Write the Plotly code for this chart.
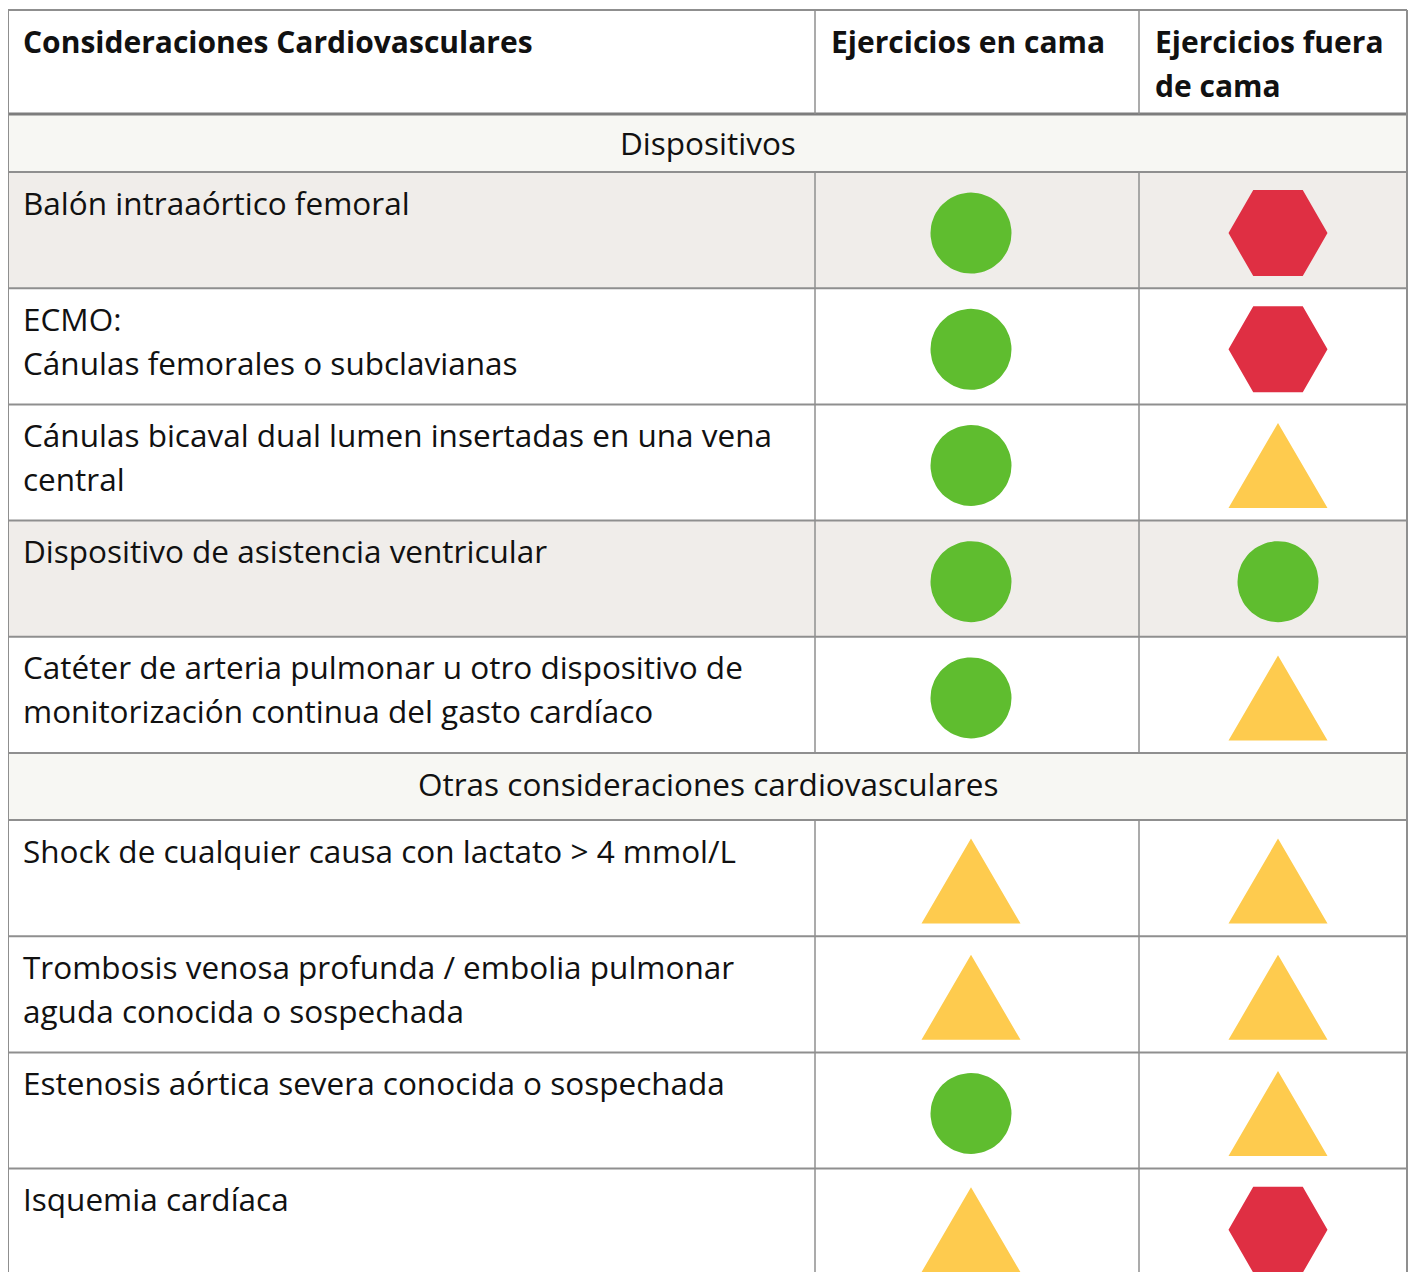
import numpy as np
import plotly.graph_objects as go

# ------------------------------------------------------------------ data
column_headers = ["Consideraciones Cardiovasculares",
                  "Ejercicios en cama",
                  "Ejercicios fuera<br>de cama"]
section_titles = ["Dispositivos", "Otras consideraciones cardiovasculares"]

dispositivos_rows = [
    "Balón intraaórtico femoral",
    "ECMO:<br>Cánulas femorales o subclavianas",
    "Cánulas bicaval dual lumen insertadas en una vena<br>central",
    "Dispositivo de asistencia ventricular",
    "Catéter de arteria pulmonar u otro dispositivo de<br>monitorización continua del gasto cardíaco",
]
dispositivos_en_cama = ["verde", "verde", "verde", "verde", "verde"]
dispositivos_fuera_cama = ["rojo", "rojo", "amarillo", "verde", "amarillo"]

otras_rows = [
    "Shock de cualquier causa con lactato > 4 mmol/L",
    "Trombosis venosa profunda / embolia pulmonar<br>aguda conocida o sospechada",
    "Estenosis aórtica severa conocida o sospechada",
    "Isquemia cardíaca",
]
otras_en_cama = ["amarillo", "amarillo", "verde", "amarillo"]
otras_fuera_cama = ["amarillo", "amarillo", "amarillo", "rojo"]

# ------------------------------------------------------------------ style / layout
FONT = "Open Sans"
TXT = "#111111"
GRID = "#8f8f8f"
SHADED_BG = "#f0edea"
SECTION_BG = "#f7f7f3"
COLORS = {"verde": "#5fbd2f", "rojo": "#df2f43", "amarillo": "#fecb4e"}

X_LEFT, X_C1, X_C2, X_RIGHT = 8, 815, 1139, 1407
SHAPE_X = [971, 1278]
Y_TOP = 10
HEADER_H = 104
SECTION_H = [58, 67]
SECTION_TXT_DY = [-1, -3]
ROW_H = 116.2
LINE_GAP = 44
FS = 31.5
FS_HEAD = 30
shaded = {(0, 0), (0, 3)}

sections = [
    (section_titles[0], dispositivos_rows, dispositivos_en_cama, dispositivos_fuera_cama),
    (section_titles[1], otras_rows, otras_en_cama, otras_fuera_cama),
]

shapes = []
annotations = []
marks = {k: ([], []) for k in COLORS}


def text(x, y, s, bold=False, xanchor="left"):
    annotations.append(dict(x=x, y=y, xref="x", yref="y", text=f"<b>{s}</b>" if bold else s,
                            showarrow=False, xanchor=xanchor, yanchor="middle",
                            font=dict(family=FONT, size=FS_HEAD if bold else FS, color=TXT)))


def hline(y, w=2, color=GRID):
    shapes.append(dict(type="line", xref="x", yref="y", x0=X_LEFT, x1=X_RIGHT, y0=y, y1=y,
                       line=dict(color=color, width=w), layer="above"))


def add_mark(kind, cx, cy):
    xs, ys = marks[kind]
    if kind == "verde":
        t = np.linspace(0, 2 * np.pi, 73)
        px, py = 40.5 * np.cos(t), 40.5 * np.sin(t)
    elif kind == "rojo":
        px = np.array([-49.5, -24.75, 24.75, 49.5, 24.75, -24.75, -49.5])
        py = np.array([0, -43, -43, 0, 43, 43, 0])
    else:
        px = np.array([-49.5, 0, 49.5, -49.5])
        py = np.array([42.5, -42.5, 42.5, 42.5])
    xs.extend(list(cx + px) + [None])
    ys.extend(list(cy + py) + [None])


# header
header_x = [X_LEFT + 13, X_C1 + 14, X_C2 + 14]
for hx, h in zip(header_x, column_headers):
    for i, line in enumerate(h.split("<br>")):
        text(hx, Y_TOP + 31 + i * LINE_GAP, line, bold=True)

y = Y_TOP + HEADER_H
hline(Y_TOP, 2)
col_lines = []
for si, (title, rows, c1, c2) in enumerate(sections):
    sh = SECTION_H[si]
    shapes.append(dict(type="rect", xref="x", yref="y", x0=X_LEFT, x1=X_RIGHT, y0=y, y1=y + sh,
                       fillcolor=SECTION_BG, line=dict(width=0), layer="below"))
    text((X_LEFT + X_RIGHT) / 2, y + sh / 2 + SECTION_TXT_DY[si], title, xanchor="center")
    hline(y, 3 if si == 0 else 2, "#7d7d7d" if si == 0 else GRID)
    y += sh
    for ri, (label, a, b) in enumerate(zip(rows, c1, c2)):
        if (si, ri) in shaded:
            shapes.append(dict(type="rect", xref="x", yref="y", x0=X_LEFT, x1=X_RIGHT, y0=y,
                               y1=y + ROW_H, fillcolor=SHADED_BG, line=dict(width=0), layer="below"))
        hline(y, 2)
        for li, line in enumerate(label.split("<br>")):
            text(X_LEFT + 13, y + 30 + li * LINE_GAP, line)
        cy = y + ROW_H / 2 + 3
        add_mark(a, SHAPE_X[0], cy)
        add_mark(b, SHAPE_X[1], cy)
        col_lines.append((y, y + ROW_H))
        y += ROW_H

Y_BOTTOM = y
# vertical lines: outer borders full height; column separators skip section rows
for x in (X_LEFT, X_RIGHT):
    shapes.append(dict(type="line", xref="x", yref="y", x0=x, x1=x, y0=Y_TOP, y1=Y_BOTTOM,
                       line=dict(color=GRID, width=2), layer="above"))
for x in (X_C1, X_C2):
    shapes.append(dict(type="line", xref="x", yref="y", x0=x, x1=x, y0=Y_TOP, y1=Y_TOP + HEADER_H,
                       line=dict(color=GRID, width=1.5), layer="above"))
    for y0, y1 in col_lines:
        shapes.append(dict(type="line", xref="x", yref="y", x0=x, x1=x, y0=y0, y1=y1,
                           line=dict(color=GRID, width=1.5), layer="above"))

fig = go.Figure()
for kind, (xs, ys) in marks.items():
    fig.add_trace(go.Scatter(x=xs, y=ys, mode="lines", fill="toself", fillcolor=COLORS[kind],
                             line=dict(width=0, color=COLORS[kind]), hoverinfo="skip",
                             showlegend=False))

fig.update_layout(
    width=1400, height=1264,
    margin=dict(l=0, r=0, t=0, b=0),
    paper_bgcolor="white", plot_bgcolor="white",
    xaxis=dict(range=[8, 1408], visible=False, fixedrange=True),
    yaxis=dict(range=[1272, 8], visible=False, fixedrange=True),
    shapes=shapes, annotations=annotations, showlegend=False,
)
fig.write_html("out.html")
